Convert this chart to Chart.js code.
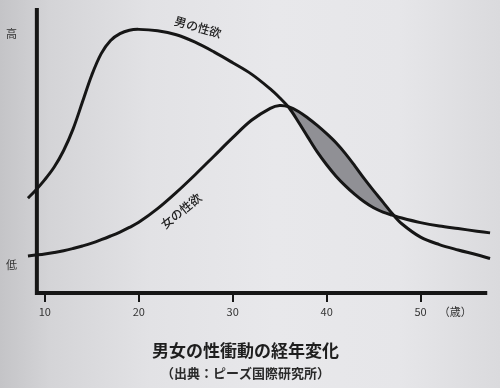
<!DOCTYPE html>
<html lang="ja">
<head>
  <meta charset="UTF-8">
  <title>男女の性衝動の経年変化</title>
  <script src="https://cdn.jsdelivr.net/npm/chart.js"></script>
  <style>
    html, body { margin: 0; padding: 0; }
    body {
      width: 500px; height: 388px; overflow: hidden;
      background: linear-gradient(90deg, #c4c4c7 0%, #d4d4d7 10%, #e2e2e5 30%, #e8e8eb 55%, #e6e6e9 80%, #dadadd 100%);
    }
    #wrap { position: relative; width: 500px; height: 388px; }
  </style>
</head>
<body>
  <div id="wrap"><canvas id="viz"></canvas></div>

  <script>
    // ages (years) shared by both curves
    const ages = [8.2, 9, 10, 11, 12, 13, 14, 15, 16, 17, 18, 19, 20, 22, 24, 26, 28, 30, 32, 34, 35, 36,
      37, 38, 39, 40, 41, 42, 43, 44, 45, 46, 47, 48, 50, 52, 54, 56, 57.4]
    // relative level, 0 = axis, 100 = top
    const menValues = [33.3, 36.0, 39.8, 44.2, 50.0, 57.5, 67.0, 76.5, 84.0, 88.6, 91.0, 92.2, 92.5, 92.0, 90.6,
      88.0, 84.6, 80.8, 76.8, 71.6, 68.5, 65.0, 60.0, 54.7, 49.5, 45.0, 41.0, 37.6, 34.6, 32.0, 29.9, 28.4, 27.3,
      26.3, 24.7, 23.5, 22.6, 21.7, 21.1]
    const womenValues = [13.0, 13.3, 13.7, 14.2, 14.8, 15.6, 16.5, 17.5, 18.7, 20.0, 21.4, 23.0, 24.8, 29.6, 35.3,
      41.5, 48.0, 54.5, 60.6, 64.8, 65.8, 65.3, 63.7, 61.4, 58.8, 55.9, 52.7, 48.9, 44.6, 40.1, 35.9, 31.9, 27.8,
      24.3, 19.6, 17.0, 15.1, 13.4, 12.1]
    const seriesNames = ['男の性欲', '女の性欲']

    const xTickValues = [10, 20, 30, 40, 50, 53.7]
    const xTickLabels = ['10', '20', '30', '40', '50', '（歳）']
    const yTickValues = [10, 91]
    const yTickLabels = ['低', '高']

    const FONT = '"Noto Sans CJK JP", "Noto Sans", sans-serif'
    const INK = '#161616'

    // axis lines start a little right of where the curves begin
    const axesAndLabels = {
      id: 'axesAndLabels',
      afterDatasetsDraw(chart) {
        const { ctx, scales: { x, y } } = chart
        const x0 = x.getPixelForValue(9.15)
        const y0 = y.getPixelForValue(0)
        ctx.save()
        ctx.strokeStyle = INK
        ctx.lineWidth = 4
        ctx.lineCap = 'butt'
        ctx.beginPath()
        ctx.moveTo(x0, y.getPixelForValue(100))
        ctx.lineTo(x0, y0 + 2)
        ctx.moveTo(x0 - 2, y0)
        ctx.lineTo(x.getPixelForValue(57.1), y0)
        ctx.stroke()

        ctx.fillStyle = '#222'
        ctx.font = '500 12px ' + FONT
        ctx.textAlign = 'center'
        ctx.textBaseline = 'middle'
        const tag = (text, age, val, deg) => {
          ctx.save()
          ctx.translate(x.getPixelForValue(age), y.getPixelForValue(val))
          ctx.rotate(deg * Math.PI / 180)
          ctx.fillText(text, 0, 0)
          ctx.restore()
        }
        tag(seriesNames[0], 26.3, 93.3, 16)
        tag(seriesNames[1], 24.5, 28.8, -39)
        ctx.restore()
      }
    }

    const points = vals => ages.map((a, i) => ({ x: a, y: vals[i] }))

    new Chart(document.getElementById('viz'), {
      type: 'line',
      data: {
        datasets: [{
          label: seriesNames[0],
          data: points(menValues),
          borderColor: INK,
          borderWidth: 3,
          pointRadius: 0,
          tension: 0.35,
          fill: false
        }, {
          label: seriesNames[1],
          data: points(womenValues),
          borderColor: INK,
          borderWidth: 3,
          pointRadius: 0,
          tension: 0.35,
          fill: { target: 0, above: 'rgba(128,128,134,0.85)', below: 'rgba(0,0,0,0)' }
        }]
      },
      options: {
        responsive: true,
        maintainAspectRatio: false,
        animation: false,
        devicePixelRatio: 1,
        layout: { padding: { top: 8, right: 9, bottom: 5, left: 0 } },
        scales: {
          x: {
            type: 'linear',
            min: 8.1,
            max: 57.5,
            afterBuildTicks: s => { s.ticks = xTickValues.map(v => ({ value: v })) },
            afterFit: s => { s.height = 28; s.paddingLeft = 0; s.paddingRight = 0 },
            border: { display: false },
            grid: {
              drawOnChartArea: false,
              drawTicks: true,
              tickLength: 9,
              lineWidth: 2,
              color: c => c.index === xTickValues.length - 1 ? 'rgba(0,0,0,0)' : INK
            },
            ticks: {
              autoSkip: false,
              maxRotation: 0,
              padding: 3,
              color: '#333',
              font: { family: FONT, size: 11 },
              callback: (v, i) => xTickLabels[i]
            }
          },
          y: {
            min: 0,
            max: 100,
            afterBuildTicks: s => { s.ticks = yTickValues.map(v => ({ value: v })) },
            afterFit: s => { s.width = 27; s.paddingTop = 0; s.paddingBottom = 0 },
            border: { display: false },
            grid: { display: false, drawTicks: false },
            ticks: {
              padding: 10,
              color: '#333',
              font: { family: FONT, size: 11 },
              callback: (v, i) => yTickLabels[i]
            }
          }
        },
        plugins: {
          legend: { display: false },
          tooltip: { enabled: false },
          title: {
            display: true,
            position: 'bottom',
            weight: 1000,
            text: '男女の性衝動の経年変化',
            color: '#1e1e1e',
            font: { family: FONT, size: 17, weight: 'bold' },
            padding: { top: 19, bottom: 0 }
          },
          subtitle: {
            display: true,
            position: 'bottom',
            weight: 1500,
            text: '（出典：ピーズ国際研究所）',
            color: '#2a2a2a',
            font: { family: FONT, size: 13, weight: 'bold' },
            padding: { top: 5, bottom: 2 }
          }
        }
      },
      plugins: [axesAndLabels]
    })
  </script>
</body>
</html>
